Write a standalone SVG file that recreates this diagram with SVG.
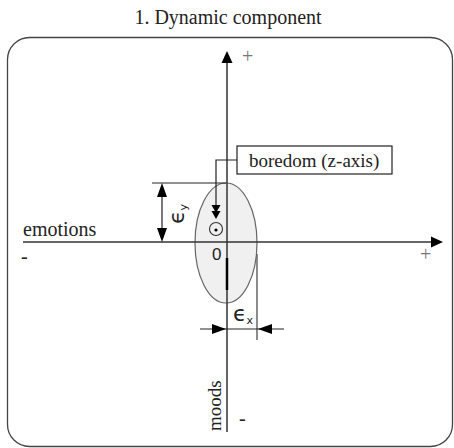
<svg xmlns="http://www.w3.org/2000/svg" width="454" height="448" viewBox="0 0 454 448">
<defs>
<style>
text{font-family:"Liberation Serif",serif;fill:#222}
.ax{stroke:#333;stroke-width:1.5;fill:none}
.ln{stroke:#222;stroke-width:1.2;fill:none}
.gr{stroke:#666;stroke-width:1.5;fill:none}
.ah{fill:#000}
.pm{fill:#777}
</style>
</defs>
<rect width="454" height="448" fill="#fff"/>
<text x="228" y="24" font-size="20" text-anchor="middle">1. Dynamic component</text>
<rect x="7.5" y="37.5" width="445" height="409" rx="22" fill="none" stroke="#444" stroke-width="1.3"/>
<g id="ellipse">
<ellipse cx="226" cy="243" rx="31" ry="60" fill="#f0f0f0" stroke="#666" stroke-width="1.2"/>
</g>
<g id="connectors">
<line class="ax" x1="227" y1="60" x2="227" y2="432"/>
<polygon class="ah" points="227,51 221.5,63 232.5,63"/>
<line class="ax" x1="23" y1="242" x2="433" y2="242"/>
<polygon class="ah" points="443,242 431,236.5 431,247.5"/>
<line x1="227" y1="258" x2="227" y2="290" stroke="#000" stroke-width="2.5"/>
<line class="gr" x1="257" y1="254" x2="257" y2="340"/>
<line class="ln" x1="200" y1="329" x2="284" y2="329"/>
<polygon class="ah" points="226,329 212,324 212,334"/>
<polygon class="ah" points="258,329 272,324 272,334"/>
<line class="ln" x1="152" y1="183" x2="226" y2="183"/>
<line class="ln" x1="162" y1="188" x2="162" y2="238"/>
<polygon class="ah" points="162,183 157,197 167,197"/>
<polygon class="ah" points="162,242 157,228 167,228"/>
<polyline class="ln" points="237,160 216,160 216,215"/>
<polygon class="ah" points="216,213 211.5,205 220.5,205"/>
<polygon class="ah" points="216,219 211.5,211 220.5,211"/>
</g>
<g id="zaxis">
<circle cx="216" cy="229" r="6.5" fill="#f0f0f0" stroke="#333" stroke-width="1.1"/>
<circle cx="216" cy="230" r="1.6" fill="#000"/>
</g>
<g id="boredom">
<rect x="237" y="146" width="155" height="28" fill="#fff" stroke="#222" stroke-width="1.2"/>
<text x="249" y="167" font-size="19">boredom (z-axis)</text>
</g>
<g id="labels">
<text x="242" y="63" font-size="20" class="pm" style="fill:#777">+</text>
<text x="420" y="261" font-size="20" style="fill:#777">+</text>
<text x="23" y="236" font-size="20">emotions</text>
<text x="21" y="263" font-size="20">-</text>
<text x="212" y="260" font-size="17" style="font-family:'Liberation Sans',sans-serif">0</text>
<text x="233" y="321" font-size="22" style="font-family:'DejaVu Sans',sans-serif">ϵ<tspan font-size="11" dy="3">x</tspan></text>
<text transform="translate(184,224) rotate(-90)" font-size="22" style="font-family:'DejaVu Sans',sans-serif">ϵ<tspan font-size="11" dy="3">y</tspan></text>
<text transform="translate(221,431) rotate(-90)" font-size="19">moods</text>
<text x="239" y="425" font-size="20">-</text>
</g>
</svg>
